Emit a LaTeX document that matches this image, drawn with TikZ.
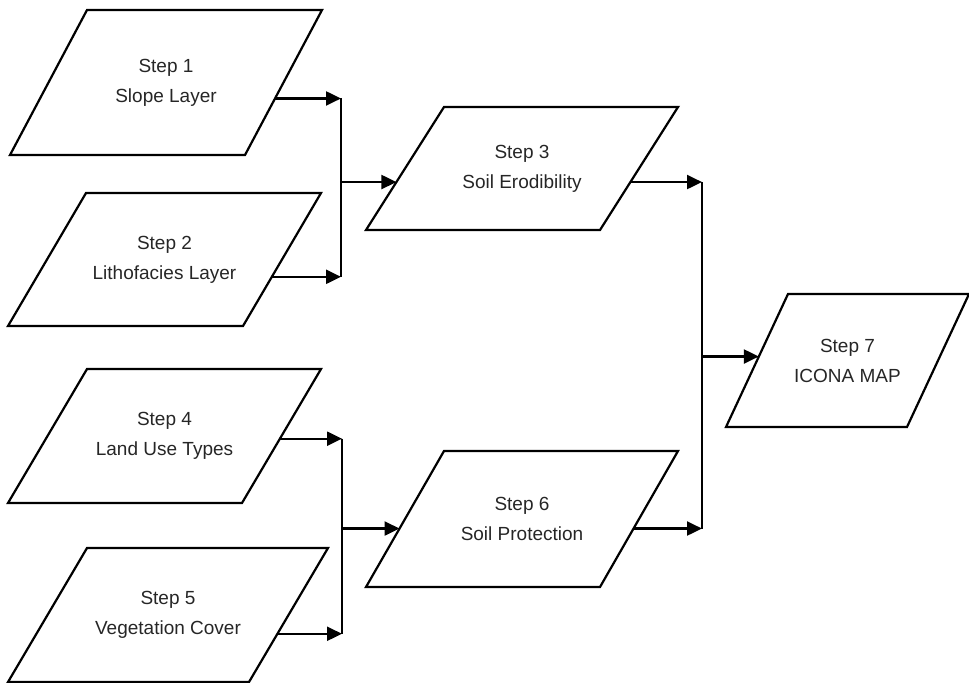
\documentclass[tikz,border=0pt]{standalone}
\usepackage{fontspec}
\setmainfont{Liberation Sans}
\usetikzlibrary{arrows.meta, positioning, calc}

\tikzset{
  layer/.style={inner sep=0pt, outer sep=0pt, align=center,
    text=black!85, font=\fontsize{9.5}{15}\selectfont},
  frameline/.style={line width=1.1pt},
  flow/.style={-{Triangle[length=7.5pt,width=7pt]}, line width=1.1pt},
  busline/.style={line width=1.4pt},
}

% slanted outline round a layer node, offset in picture units
\newcommand{\layerframe}[2]{%
  \coordinate (#1-tl) at ($(#1.north west)+(#2,0)$);
  \coordinate (#1-br) at ($(#1.south east)-(#2,0)$);
  \draw[frameline] (#1-tl) -- (#1.north east) -- (#1-br) -- (#1.south west) -- cycle;}

\begin{document}
\begin{tikzpicture}[x=0.5pt, y=-0.5pt]
  \useasboundingbox (0,0) rectangle (969,682);

  % input layers
  \node[layer, minimum width=156pt, minimum height=72.5pt] (s1) at (166,82.5) {Step 1\\Slope Layer};
  \node[layer, minimum width=156.5pt, minimum height=66.5pt] (s2) at (164.5,259.5) {Step 2\\Lithofacies Layer};
  \node[layer, minimum width=156.5pt, minimum height=67pt] (s4) at (164.5,436) {Step 4\\Land Use Types};
  \node[layer, minimum width=160pt, minimum height=67pt] (s5) at (168,615) {Step 5\\Vegetation Cover};

  % intermediate maps
  \node[layer, minimum width=156pt, minimum height=61.5pt] (s3) at (522,168.5) {Step 3\\Soil Erodibility};
  \node[layer, minimum width=156pt, minimum height=68pt] (s6) at (522,519) {Step 6\\Soil Protection};

  % result
  \node[layer, minimum width=121.5pt, minimum height=66.5pt] (s7) at (847.5,360.5) {Step 7\\ICONA MAP};

  \layerframe{s1}{77}
  \layerframe{s2}{78}
  \layerframe{s3}{78}
  \layerframe{s4}{79}
  \layerframe{s5}{79}
  \layerframe{s6}{78}
  \layerframe{s7}{62}

  % points on the slanted sides
  \coordinate (o1) at ($(s1.north east)!.61!(s1-br)$);
  \coordinate (o2) at ($(s2.north east)!.63!(s2-br)$);
  \coordinate (o4) at ($(s4.north east)!.52!(s4-br)$);
  \coordinate (o5) at ($(s5.north east)!.64!(s5-br)$);
  \coordinate (i3) at ($(s3-tl)!.61!(s3.south west)$);
  \coordinate (o3) at ($(s3.north east)!.61!(s3-br)$);
  \coordinate (i6) at ($(s6-tl)!.57!(s6.south west)$);
  \coordinate (o6) at ($(s6.north east)!.57!(s6-br)$);
  \coordinate (i7) at ($(s7-tl)!.47!(s7.south west)$);

  % junction bars
  \coordinate (busA) at (341,0);
  \coordinate (busB) at (342,0);
  \coordinate (busC) at (702,0);

  \draw[flow] (o1) -- (o1 -| busA);
  \draw[flow] (o2) -- (o2 -| busA);
  \draw[busline] (o1 -| busA) -- (o2 -| busA);
  \draw[flow] (i3 -| busA) -- (i3);

  \draw[flow] (o4) -- (o4 -| busB);
  \draw[flow] (o5) -- (o5 -| busB);
  \draw[busline] (o4 -| busB) -- (o5 -| busB);
  \draw[flow] (i6 -| busB) -- (i6);

  \draw[flow] (o3) -- (o3 -| busC);
  \draw[flow] (o6) -- (o6 -| busC);
  \draw[busline] (o3 -| busC) -- (o6 -| busC);
  \draw[flow] (i7 -| busC) -- (i7);
\end{tikzpicture}
\end{document}
